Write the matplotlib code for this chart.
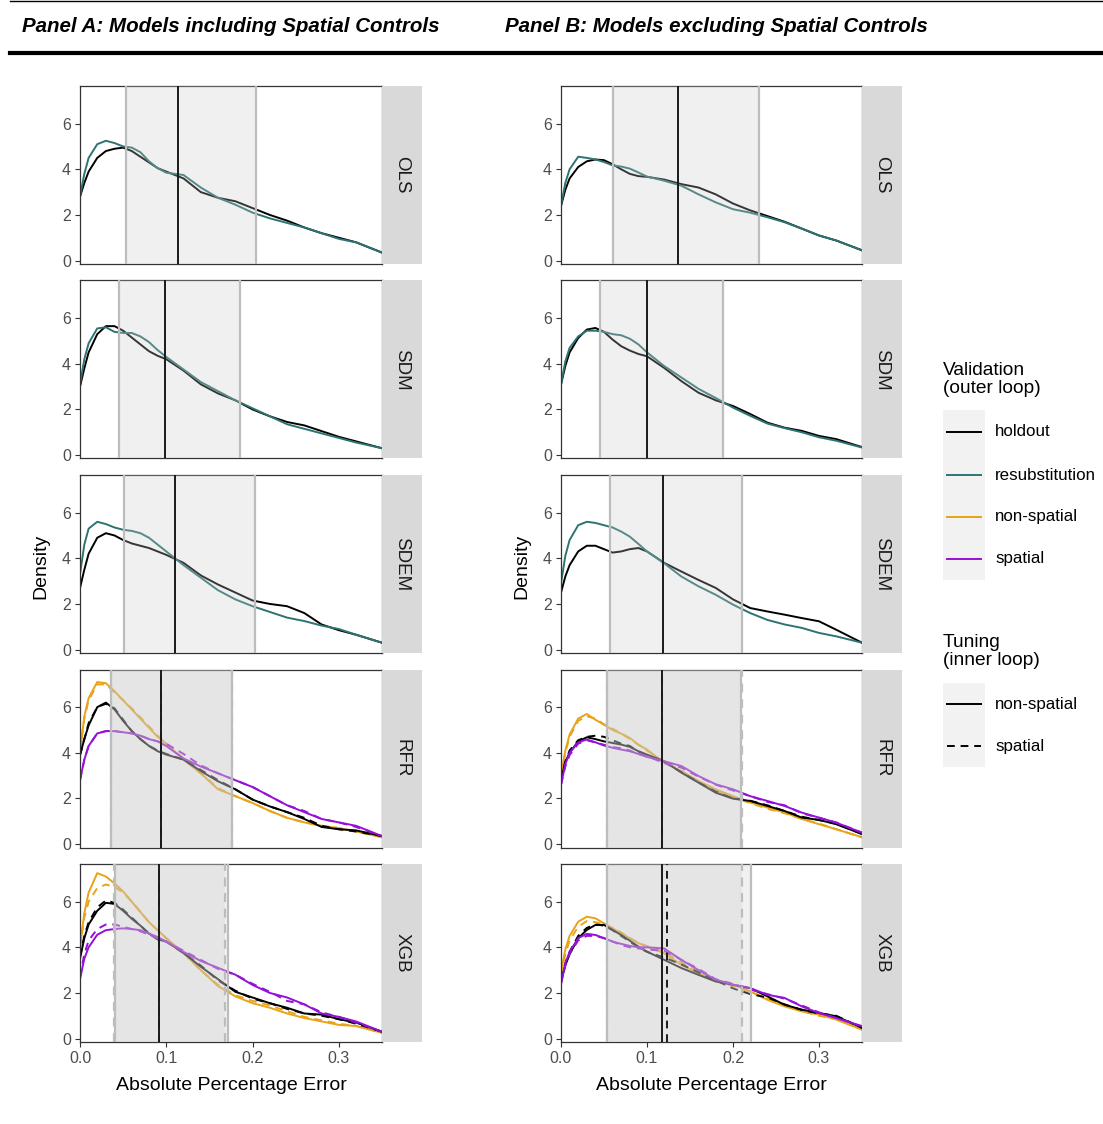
import matplotlib
matplotlib.use('Agg')
from matplotlib import pyplot as plt
from matplotlib.patches import Rectangle

plt.rcParams['font.family'] = ['Liberation Sans', 'DejaVu Sans']

W, H = 1103, 1124

# absolute percentage error values the densities were read at
ape = [0, 0.005, 0.01, 0.02, 0.03, 0.04, 0.05, 0.06, 0.07, 0.08, 0.09, 0.10,
       0.12, 0.14, 0.16, 0.18, 0.20, 0.22, 0.24, 0.26, 0.28, 0.30, 0.32, 0.35]

models = ['OLS', 'SDM', 'SDEM', 'RFR', 'XGB']

# ---- Panel A: including spatial controls ----
A_OLS_holdout = [2.8, 3.4, 3.9, 4.5, 4.8, 4.9, 4.95, 4.8, 4.55, 4.3, 4.05, 3.9, 3.6, 3.0, 2.75, 2.6, 2.3, 2.0, 1.75, 1.45, 1.2, 1.0, 0.8, 0.35]
A_OLS_resub = [2.8, 3.8, 4.5, 5.1, 5.25, 5.15, 5.0, 4.95, 4.75, 4.35, 4.05, 3.85, 3.75, 3.2, 2.75, 2.45, 2.1, 1.85, 1.65, 1.45, 1.2, 0.95, 0.8, 0.35]
A_SDM_holdout = [3.0, 3.8, 4.5, 5.3, 5.65, 5.65, 5.45, 5.15, 4.85, 4.55, 4.35, 4.2, 3.7, 3.1, 2.7, 2.4, 2.0, 1.7, 1.45, 1.3, 1.05, 0.8, 0.6, 0.3]
A_SDM_resub = [3.1, 4.2, 4.9, 5.55, 5.6, 5.4, 5.35, 5.35, 5.2, 4.95, 4.6, 4.3, 3.75, 3.2, 2.8, 2.4, 2.05, 1.7, 1.35, 1.15, 0.95, 0.75, 0.55, 0.3]
A_SDEM_holdout = [2.7, 3.5, 4.2, 4.9, 5.1, 5.0, 4.8, 4.65, 4.55, 4.45, 4.3, 4.15, 3.8, 3.25, 2.85, 2.5, 2.15, 2.0, 1.9, 1.6, 1.1, 0.85, 0.65, 0.3]
A_SDEM_resub = [3.3, 4.6, 5.3, 5.6, 5.5, 5.35, 5.25, 5.2, 5.1, 4.9, 4.6, 4.3, 3.7, 3.15, 2.6, 2.2, 1.9, 1.65, 1.4, 1.25, 1.05, 0.9, 0.65, 0.3]

A_RFR_ns_tune_nonsp = [4.0, 5.6, 6.4, 7.1, 7.05, 6.7, 6.3, 5.9, 5.5, 5.1, 4.7, 4.4, 3.7, 3.1, 2.4, 2.1, 1.8, 1.45, 1.15, 0.95, 0.8, 0.7, 0.55, 0.3]
A_RFR_ns_tune_sp = [4.1, 5.5, 6.3, 7.0, 7.0, 6.65, 6.3, 5.95, 5.55, 5.15, 4.75, 4.4, 3.75, 3.1, 2.45, 2.1, 1.8, 1.45, 1.15, 0.95, 0.8, 0.7, 0.55, 0.3]
A_RFR_ho_tune_nonsp = [3.9, 4.6, 5.2, 6.0, 6.2, 5.9, 5.4, 4.95, 4.6, 4.3, 4.07, 3.92, 3.7, 3.2, 2.75, 2.4, 1.95, 1.65, 1.4, 1.1, 0.75, 0.65, 0.6, 0.35]
A_RFR_ho_tune_sp = [3.9, 4.6, 5.3, 6.0, 6.15, 5.95, 5.45, 4.95, 4.6, 4.3, 4.1, 3.95, 3.7, 3.25, 2.8, 2.4, 1.95, 1.65, 1.4, 1.15, 0.8, 0.65, 0.55, 0.35]
A_RFR_sp_tune_nonsp = [2.8, 3.7, 4.3, 4.85, 4.95, 4.95, 4.9, 4.85, 4.75, 4.6, 4.5, 4.3, 3.75, 3.4, 3.1, 2.8, 2.5, 2.1, 1.7, 1.4, 1.1, 0.95, 0.8, 0.35]
A_RFR_sp_tune_sp = [2.8, 3.7, 4.3, 4.85, 4.95, 4.95, 4.9, 4.85, 4.75, 4.6, 4.5, 4.4, 3.95, 3.45, 3.1, 2.8, 2.5, 2.1, 1.7, 1.45, 1.1, 0.95, 0.75, 0.35]

A_XGB_ns_tune_nonsp = [4.0, 5.5, 6.4, 7.25, 7.1, 6.8, 6.45, 6.0, 5.55, 5.1, 4.75, 4.4, 3.75, 3.0, 2.3, 1.85, 1.55, 1.35, 1.1, 0.9, 0.75, 0.6, 0.55, 0.25]
A_XGB_ns_tune_sp = [4.0, 5.3, 6.0, 6.6, 6.75, 6.65, 6.4, 6.0, 5.55, 5.1, 4.75, 4.4, 3.75, 3.0, 2.35, 1.9, 1.65, 1.45, 1.2, 0.95, 0.8, 0.65, 0.55, 0.25]
A_XGB_ho_tune_nonsp = [3.5, 4.4, 5.0, 5.6, 5.95, 5.9, 5.6, 5.25, 4.95, 4.6, 4.35, 4.25, 3.75, 3.15, 2.6, 2.05, 1.8, 1.55, 1.35, 1.1, 1.05, 0.85, 0.7, 0.3]
A_XGB_ho_tune_sp = [3.6, 4.5, 5.1, 5.75, 6.05, 5.95, 5.65, 5.3, 4.95, 4.6, 4.35, 4.25, 3.75, 3.2, 2.55, 2.1, 1.75, 1.55, 1.3, 1.1, 1.0, 0.85, 0.65, 0.3]
A_XGB_sp_tune_nonsp = [2.6, 3.5, 4.0, 4.55, 4.75, 4.8, 4.83, 4.8, 4.75, 4.6, 4.45, 4.25, 3.8, 3.4, 3.1, 2.8, 2.35, 2.0, 1.8, 1.5, 1.1, 0.95, 0.75, 0.3]
A_XGB_sp_tune_sp = [2.7, 3.7, 4.3, 4.8, 5.0, 5.0, 4.9, 4.8, 4.7, 4.55, 4.4, 4.25, 3.85, 3.45, 3.05, 2.8, 2.4, 2.05, 1.65, 1.5, 1.15, 0.95, 0.7, 0.3]

# quantile lines (25%, median, 75%) per model; None where no spatial tuning
A_lo_nonsp = [0.0533, 0.045, 0.051, 0.036, 0.040]
A_med_nonsp = [0.1136, 0.0985, 0.110, 0.094, 0.0916]
A_hi_nonsp = [0.204, 0.185, 0.203, 0.176, 0.172]
A_lo_sp = [None, None, None, 0.036, 0.039]
A_med_sp = [None, None, None, 0.094, 0.092]
A_hi_sp = [None, None, None, 0.176, 0.168]

# ---- Panel B: excluding spatial controls ----
B_OLS_holdout = [2.4, 3.1, 3.6, 4.1, 4.35, 4.43, 4.4, 4.22, 4.0, 3.8, 3.7, 3.67, 3.55, 3.35, 3.2, 2.9, 2.5, 2.2, 1.95, 1.7, 1.4, 1.1, 0.88, 0.45]
B_OLS_resub = [2.4, 3.4, 4.0, 4.55, 4.5, 4.43, 4.32, 4.17, 4.12, 4.03, 3.86, 3.68, 3.5, 3.28, 2.9, 2.55, 2.25, 2.1, 1.9, 1.68, 1.4, 1.1, 0.88, 0.45]
B_SDM_holdout = [3.1, 3.9, 4.5, 5.13, 5.5, 5.57, 5.4, 5.06, 4.77, 4.58, 4.43, 4.33, 3.82, 3.24, 2.73, 2.4, 2.15, 1.8, 1.42, 1.2, 1.06, 0.84, 0.7, 0.35]
B_SDM_resub = [3.1, 4.1, 4.7, 5.2, 5.45, 5.45, 5.4, 5.3, 5.25, 5.1, 4.85, 4.5, 3.9, 3.4, 2.9, 2.5, 2.08, 1.72, 1.38, 1.18, 1.0, 0.78, 0.63, 0.33]
B_SDEM_holdout = [2.5, 3.2, 3.7, 4.3, 4.55, 4.55, 4.4, 4.25, 4.3, 4.4, 4.45, 4.3, 3.8, 3.42, 3.05, 2.7, 2.2, 1.82, 1.67, 1.53, 1.38, 1.24, 0.87, 0.3]
B_SDEM_resub = [2.9, 4.1, 4.8, 5.45, 5.6, 5.55, 5.45, 5.35, 5.17, 4.95, 4.63, 4.3, 3.78, 3.2, 2.77, 2.4, 1.97, 1.6, 1.3, 1.1, 0.95, 0.73, 0.58, 0.3]

B_RFR_ns_tune_nonsp = [3.0, 4.1, 4.8, 5.5, 5.7, 5.45, 5.23, 5.0, 4.84, 4.65, 4.36, 4.14, 3.56, 3.2, 2.76, 2.4, 2.1, 1.82, 1.6, 1.38, 1.1, 0.87, 0.65, 0.3]
B_RFR_ns_tune_sp = [3.0, 4.0, 4.7, 5.4, 5.6, 5.5, 5.25, 5.05, 4.85, 4.6, 4.35, 4.1, 3.6, 3.2, 2.75, 2.35, 2.05, 1.8, 1.55, 1.35, 1.1, 0.9, 0.65, 0.3]
B_RFR_ho_tune_nonsp = [2.8, 3.6, 4.0, 4.5, 4.68, 4.6, 4.5, 4.43, 4.36, 4.26, 4.07, 3.92, 3.63, 3.13, 2.69, 2.25, 1.99, 1.89, 1.67, 1.45, 1.16, 1.06, 0.87, 0.44]
B_RFR_ho_tune_sp = [2.8, 3.6, 4.1, 4.55, 4.7, 4.75, 4.7, 4.55, 4.4, 4.3, 4.05, 3.9, 3.6, 3.15, 2.7, 2.3, 2.0, 1.9, 1.7, 1.45, 1.2, 1.05, 0.9, 0.44]
B_RFR_sp_tune_nonsp = [2.6, 3.5, 4.0, 4.46, 4.58, 4.46, 4.32, 4.22, 4.14, 4.07, 3.95, 3.82, 3.63, 3.42, 2.98, 2.62, 2.4, 2.1, 1.89, 1.67, 1.38, 1.16, 0.94, 0.5]
B_RFR_sp_tune_sp = [2.6, 3.4, 3.9, 4.4, 4.55, 4.45, 4.35, 4.25, 4.2, 4.1, 3.95, 3.85, 3.55, 3.35, 2.95, 2.6, 2.35, 2.1, 1.85, 1.7, 1.35, 1.15, 0.95, 0.5]

B_XGB_ns_tune_nonsp = [2.9, 3.9, 4.5, 5.12, 5.34, 5.27, 5.05, 4.83, 4.61, 4.4, 4.18, 4.03, 3.74, 3.23, 2.87, 2.58, 2.36, 2.07, 1.7, 1.41, 1.19, 1.05, 0.83, 0.39]
B_XGB_ns_tune_sp = [2.8, 3.7, 4.3, 4.9, 5.15, 5.1, 5.0, 4.85, 4.65, 4.4, 4.2, 4.05, 3.8, 3.35, 2.9, 2.55, 2.3, 2.05, 1.75, 1.45, 1.2, 1.0, 0.85, 0.4]
B_XGB_ho_tune_nonsp = [2.5, 3.2, 3.7, 4.4, 4.76, 4.98, 4.98, 4.76, 4.54, 4.29, 4.03, 3.81, 3.45, 3.09, 2.79, 2.5, 2.36, 2.21, 1.85, 1.48, 1.27, 1.12, 0.98, 0.47]
B_XGB_ho_tune_sp = [2.6, 3.3, 3.8, 4.5, 4.85, 5.0, 4.95, 4.75, 4.5, 4.25, 4.0, 3.8, 3.55, 3.25, 2.9, 2.55, 2.2, 1.95, 1.8, 1.5, 1.25, 1.1, 1.0, 0.47]
B_XGB_sp_tune_nonsp = [2.4, 3.3, 3.8, 4.4, 4.59, 4.54, 4.4, 4.25, 4.15, 4.06, 4.0, 4.0, 3.95, 3.45, 3.0, 2.58, 2.36, 2.21, 1.92, 1.78, 1.41, 1.12, 0.9, 0.54]
B_XGB_sp_tune_sp = [2.4, 3.2, 3.7, 4.3, 4.5, 4.5, 4.4, 4.25, 4.1, 4.0, 3.95, 3.9, 3.85, 3.45, 3.05, 2.6, 2.4, 2.15, 1.95, 1.75, 1.45, 1.15, 0.9, 0.54]

B_lo_nonsp = [0.0608, 0.0453, 0.057, 0.054, 0.054]
B_med_nonsp = [0.136, 0.1004, 0.119, 0.118, 0.118]
B_hi_nonsp = [0.2306, 0.188, 0.211, 0.209, 0.221]
B_lo_sp = [None, None, None, 0.054, 0.054]
B_med_sp = [None, None, None, 0.118, 0.123]
B_hi_sp = [None, None, None, 0.210, 0.211]

val_colors = {'holdout': '#000000', 'resubstitution': '#2E7373',
              'non-spatial': '#E8A317', 'spatial': '#9510D8'}
tune_styles = {'non-spatial': '-', 'spatial': (0, (4, 3))}

# (validation, tuning, values) for each facet
curves = {
    ('A', 'OLS'): [('holdout', 'non-spatial', A_OLS_holdout), ('resubstitution', 'non-spatial', A_OLS_resub)],
    ('A', 'SDM'): [('holdout', 'non-spatial', A_SDM_holdout), ('resubstitution', 'non-spatial', A_SDM_resub)],
    ('A', 'SDEM'): [('holdout', 'non-spatial', A_SDEM_holdout), ('resubstitution', 'non-spatial', A_SDEM_resub)],
    ('A', 'RFR'): [('non-spatial', 'non-spatial', A_RFR_ns_tune_nonsp), ('non-spatial', 'spatial', A_RFR_ns_tune_sp),
                   ('holdout', 'non-spatial', A_RFR_ho_tune_nonsp), ('holdout', 'spatial', A_RFR_ho_tune_sp),
                   ('spatial', 'non-spatial', A_RFR_sp_tune_nonsp), ('spatial', 'spatial', A_RFR_sp_tune_sp)],
    ('A', 'XGB'): [('non-spatial', 'non-spatial', A_XGB_ns_tune_nonsp), ('non-spatial', 'spatial', A_XGB_ns_tune_sp),
                   ('holdout', 'non-spatial', A_XGB_ho_tune_nonsp), ('holdout', 'spatial', A_XGB_ho_tune_sp),
                   ('spatial', 'non-spatial', A_XGB_sp_tune_nonsp), ('spatial', 'spatial', A_XGB_sp_tune_sp)],
    ('B', 'OLS'): [('holdout', 'non-spatial', B_OLS_holdout), ('resubstitution', 'non-spatial', B_OLS_resub)],
    ('B', 'SDM'): [('holdout', 'non-spatial', B_SDM_holdout), ('resubstitution', 'non-spatial', B_SDM_resub)],
    ('B', 'SDEM'): [('holdout', 'non-spatial', B_SDEM_holdout), ('resubstitution', 'non-spatial', B_SDEM_resub)],
    ('B', 'RFR'): [('non-spatial', 'non-spatial', B_RFR_ns_tune_nonsp), ('non-spatial', 'spatial', B_RFR_ns_tune_sp),
                   ('holdout', 'non-spatial', B_RFR_ho_tune_nonsp), ('holdout', 'spatial', B_RFR_ho_tune_sp),
                   ('spatial', 'non-spatial', B_RFR_sp_tune_nonsp), ('spatial', 'spatial', B_RFR_sp_tune_sp)],
    ('B', 'XGB'): [('non-spatial', 'non-spatial', B_XGB_ns_tune_nonsp), ('non-spatial', 'spatial', B_XGB_ns_tune_sp),
                   ('holdout', 'non-spatial', B_XGB_ho_tune_nonsp), ('holdout', 'spatial', B_XGB_ho_tune_sp),
                   ('spatial', 'non-spatial', B_XGB_sp_tune_nonsp), ('spatial', 'spatial', B_XGB_sp_tune_sp)],
}
quantiles = {
    'A': [('non-spatial', A_lo_nonsp, A_med_nonsp, A_hi_nonsp), ('spatial', A_lo_sp, A_med_sp, A_hi_sp)],
    'B': [('non-spatial', B_lo_nonsp, B_med_nonsp, B_hi_nonsp), ('spatial', B_lo_sp, B_med_sp, B_hi_sp)],
}


def px_rect(x0, y0, x1, y1):
    # pixel box (top-left origin) -> figure fraction
    return [x0 / W, 1 - y1 / H, (x1 - x0) / W, (y1 - y0) / H]


fig = plt.figure(figsize=(W / 100, H / 100), dpi=100)

# overlay for titles, rules, labels, legend
lax = fig.add_axes([0, 0, 1, 1])
lax.set_xlim(0, W)
lax.set_ylim(H, 0)
lax.axis('off')

panel_left = {'A': (80, 382), 'B': (561, 862)}
row_top = [86, 280.5, 475, 669.5, 864]
row_h = 178

for panel in ['A', 'B']:
    x0, x1 = panel_left[panel]
    for i, m in enumerate(models):
        top = row_top[i]
        ax = fig.add_axes(px_rect(x0, top, x1, top + row_h))
        for val, tune, dens in curves[(panel, m)]:
            ax.plot(ape, dens, color=val_colors[val], lw=1.4,
                    linestyle=tune_styles[tune], zorder=2)
        # IQR shading drawn over the curves, then the quantile lines
        for tune, lo, med, hi in quantiles[panel]:
            if lo[i] is None:
                continue
            ax.axvspan(lo[i], hi[i], color='#c8c8c8', alpha=0.27, lw=0, zorder=3)
        for tune, lo, med, hi in quantiles[panel]:
            if lo[i] is None:
                continue
            ls = tune_styles[tune]
            ax.axvline(lo[i], color='#bdbdbd', lw=1.6, linestyle=ls, zorder=4)
            ax.axvline(hi[i], color='#bdbdbd', lw=1.6, linestyle=ls, zorder=4)
            ax.axvline(med[i], color='#1a1a1a', lw=1.4, linestyle=ls, zorder=5)
        ax.set_xlim(0, 0.35)
        ax.set_ylim(-0.15, 7.65)
        ax.set_yticks([0, 2, 4, 6])
        ax.set_yticklabels(['0', '2', '4', '6'])
        ax.set_xticks([0, 0.1, 0.2, 0.3])
        if i == 4:
            ax.set_xticklabels(['0.0', '0.1', '0.2', '0.3'])
            ax.tick_params(axis='x', length=3.5, width=0.8, color='#333333',
                           labelsize=11.5, labelcolor='#4d4d4d', pad=3)
        else:
            ax.tick_params(axis='x', length=0, labelbottom=False)
        ax.tick_params(axis='y', length=3.5, width=0.8, color='#333333',
                       labelsize=11.5, labelcolor='#4d4d4d', pad=3)
        for s in ax.spines.values():
            s.set_color('#333333')
            s.set_linewidth(0.9)

        # facet strip on the right
        sax = fig.add_axes(px_rect(x1, top, x1 + 40, top + row_h))
        sax.set_facecolor('#d9d9d9')
        sax.set_xticks([])
        sax.set_yticks([])
        for s in sax.spines.values():
            s.set_visible(False)
        sax.text(0.5, 0.5, m, rotation=270, ha='center', va='center',
                 fontsize=13.5, color='#1a1a1a', transform=sax.transAxes)

    mid = (x0 + x1) / 2
    lax.text(mid, 1086, 'Absolute Percentage Error', ha='center', va='center',
             fontsize=14, color='black')
    lax.text(x0 - 39, 566, 'Density', rotation=90, ha='center', va='center',
             fontsize=14, color='black')

# panel headers and rules
lax.plot([10, W], [1, 1], color='black', lw=1)
lax.plot([10, W], [53, 53], color='black', lw=3)
lax.text(22, 27, 'Panel A: Models including Spatial Controls', fontsize=14.8,
         fontweight='bold', fontstyle='italic', va='center', ha='left')
lax.text(505, 27, 'Panel B: Models excluding Spatial Controls', fontsize=14.8,
         fontweight='bold', fontstyle='italic', va='center', ha='left')

# legends
lax.text(943, 362, 'Validation\n(outer loop)', fontsize=13.8, va='top', ha='left',
         linespacing=1.05)
lax.add_patch(Rectangle((943, 410), 42, 170, facecolor='#f2f2f2', edgecolor='none'))
for k, (val, yy) in enumerate(zip(['holdout', 'resubstitution', 'non-spatial', 'spatial'],
                                  [432, 475, 517, 559])):
    lax.plot([947, 981], [yy, yy], color=val_colors[val], lw=1.4)
    lax.text(995, yy, val, fontsize=12.2, va='center', ha='left')

lax.text(943, 634, 'Tuning\n(inner loop)', fontsize=13.8, va='top', ha='left',
         linespacing=1.05)
lax.add_patch(Rectangle((943, 683), 42, 84, facecolor='#f2f2f2', edgecolor='none'))
for tune, yy in zip(['non-spatial', 'spatial'], [704, 746]):
    lax.plot([947, 981], [yy, yy], color='black', lw=1.4, linestyle=tune_styles[tune])
    lax.text(995, yy, tune, fontsize=12.2, va='center', ha='left')

plt.savefig('out.png', dpi=100)
plt.close()
